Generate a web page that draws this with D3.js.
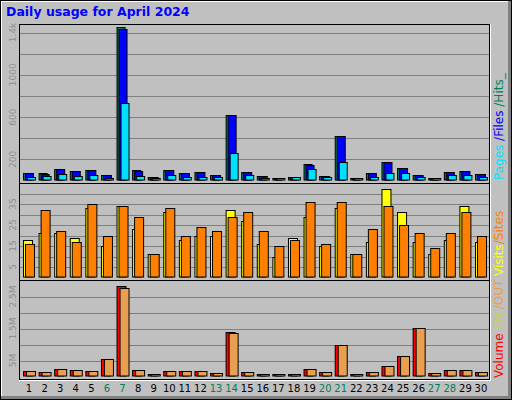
<!DOCTYPE html>
<html><head><meta charset="utf-8">
<script src="https://cdn.jsdelivr.net/npm/d3@7"></script>
<style>body{margin:0;background:#fff}svg{display:block}text{font-family:"DejaVu Sans",sans-serif}</style>
</head><body>
<svg id="chart" width="512" height="400"></svg>
<script>
var days = d3.range(1, 31);
var weekend = [6, 7, 13, 14, 20, 21, 27, 28];

var hits  = [70,70,108,89,98,51,1451,98,32,98,70,79,51,622,79,41,22,32,156,41,422,22,70,175,117,51,22,79,89,60];
var files = [67,60,105,86,95,48,1429,86,29,95,67,76,48,619,76,38,19,29,149,38,419,19,67,171,114,48,19,76,86,57];
var pages = [32,41,60,41,51,22,733,41,22,51,32,32,32,257,51,22,19,30,108,32,175,19,32,70,70,32,19,51,51,32];

var visits = [18,21,21,19,33,15,34,23,11,31,18,20,20,32,27,16,10,19,29,15,33,11,17,42,31,17,11,18,34,17];
var sites  = [16,32,22,17,35,20,34,29,11,33,20,24,22,29,31,22,15,18,36,16,36,11,23,34,25,21,14,21,31,20];

// volume in MB
var volume = [0.17,0.14,0.23,0.20,0.17,0.54,2.82,0.20,0.07,0.17,0.17,0.17,0.10,1.39,0.14,0.07,0.07,0.07,0.23,0.14,0.99,0.07,0.14,0.32,0.64,1.51,0.10,0.20,0.20,0.14];
var inout  = [0.17,0.14,0.23,0.20,0.17,0.54,2.76,0.20,0.07,0.17,0.17,0.17,0.10,1.35,0.14,0.07,0.07,0.07,0.23,0.14,0.99,0.07,0.14,0.32,0.64,1.51,0.10,0.20,0.20,0.14];

var svg = d3.select("#chart");
var L = 20, R = 490;

// outer frame
svg.append("rect").attr("x",0).attr("y",0).attr("width",512).attr("height",400).attr("fill","#000");
svg.append("rect").attr("x",1).attr("y",1).attr("width",510).attr("height",398).attr("fill","#808080");
svg.append("rect").attr("x",1).attr("y",1).attr("width",507).attr("height",395).attr("fill","#fff");
svg.append("rect").attr("x",2).attr("y",2).attr("width",506).attr("height",394).attr("fill","#c0c0c0");

svg.append("text").attr("x",6).attr("y",16).attr("fill","#0000ff")
  .attr("font-size",12.5).attr("font-weight","bold").text("Daily usage for April 2024");

var x = d3.scaleBand().domain(days).range([L + 2, R - 2]).paddingInner(0.2).paddingOuter(0.05);
function gx(d) { return x(d) + x.bandwidth()/2 - 6; }

function panel(y0, y1, yScale, ticks, labels) {
  svg.append("rect").attr("x",L-1).attr("y",y0-1).attr("width",R-L+2).attr("height",y1-y0+2).attr("fill","#fff");
  svg.append("rect").attr("x",L-1).attr("y",y0-1).attr("width",R-L+1).attr("height",y1-y0+1).attr("fill","#000");
  svg.append("rect").attr("x",L).attr("y",y0).attr("width",R-L-1).attr("height",y1-y0-1).attr("fill","#c0c0c0");
  svg.append("g").selectAll("line").data(ticks).enter().append("line")
    .attr("x1",L).attr("x2",R-1)
    .attr("y1",function(d){ return Math.round(yScale(d))+0.5; })
    .attr("y2",function(d){ return Math.round(yScale(d))+0.5; })
    .attr("stroke","#808080").attr("stroke-width",1);
  labels.forEach(function(l) {
    svg.append("text").attr("transform","translate(16," + yScale(l[0]) + ") rotate(-90)")
      .attr("text-anchor","middle").attr("fill","#909090").attr("font-size",9).text(l[1]);
  });
}

function bars(data, yScale, off, w, color) {
  svg.append("g").selectAll("rect").data(data).enter().append("rect")
    .attr("x", function(d,i){ return gx(days[i]) + off + 0.5; })
    .attr("y", function(d){ return Math.round(yScale(d)) + 0.5; })
    .attr("width", w)
    .attr("height", function(d){ return Math.max(1, yScale(0) - Math.round(yScale(d)) - 1); })
    .attr("fill", color).attr("stroke","#000").attr("stroke-width",1);
}

// top panel
var y1 = d3.scaleLinear().domain([0, 1400]).range([180.5, 32.5]);
panel(25, 184, y1, d3.range(200, 1401, 200), [[200,"200"],[600,"600"],[1000,"1000"],[1400,"1.4k"]]);
bars(hits, y1, 0, 8, "#00805c");
bars(files, y1, 2, 8, "#0000ff");
bars(pages, y1, 4, 8, "#00e0ff");

// middle panel
var y2 = d3.scaleLinear().domain([0, 40]).range([277.5, 193.5]);
panel(184, 281, y2, d3.range(5, 41, 5), [[5,"5"],[15,"15"],[25,"25"],[35,"35"]]);
bars(visits, y2, 0, 9, "#ffff00");
bars(sites, y2, 2, 9, "#ff8000");

// bottom panel
var y3 = d3.scaleLinear().domain([0, 2.5]).range([376.5, 296.5]);
panel(281, 380, y3, d3.range(0.5, 2.51, 0.5), [[0.5,"5M"],[1.5,"1.5M"],[2.5,"2.5M"]]);
bars(volume, y3, 0, 9, "#ff0000");
bars(inout, y3, 3, 9, "#e8a050");

// day labels
svg.append("g").selectAll("text").data(days).enter().append("text")
  .attr("x", function(d){ return x(d) + x.bandwidth()/2; })
  .attr("y", 392).attr("text-anchor","middle").attr("font-size",10)
  .attr("fill", function(d){ return weekend.indexOf(d) >= 0 ? "#00805c" : "#000"; })
  .text(function(d){ return d; });

// right legends
function legend(yEnd, parts) {
  var t = svg.append("text").attr("transform","translate(503," + yEnd + ") rotate(-90)")
    .attr("font-size",12);
  parts.forEach(function(p){ t.append("tspan").attr("fill",p[1]).text(p[0]); });
}
legend(180, [["Pages ","#00e0ff"],["/","#0000ff"],["Files ","#0000ff"],["/","#00805c"],["Hits_","#00805c"]]);
legend(276, [["Visits","#ffff00"],["/","#ff8000"],["Sites","#ff8000"]]);
legend(378, [["Volume","#ff0000"],[" /IN","#c8d050"],[" /OUT","#e8a050"]]);
</script>
</body></html>
